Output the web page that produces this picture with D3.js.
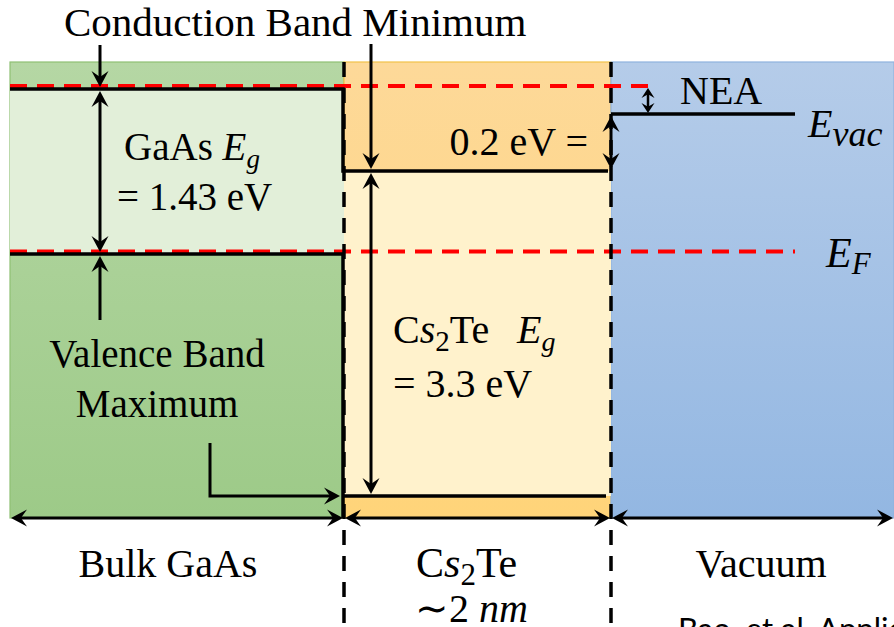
<!DOCTYPE html>
<html>
<head>
<meta charset="utf-8">
<script src="https://cdn.jsdelivr.net/npm/d3@7/dist/d3.min.js"></script>
<style>
  html, body { margin: 0; padding: 0; background: #ffffff; overflow: hidden; }
  svg { display: block; }
  text { fill: #000; }
</style>
</head>
<body>
<svg id="chart" width="894" height="627"></svg>
<script>
// ---- Data -------------------------------------------------------------
// Regions of the heterostructure, left to right
const regions = ["Bulk GaAs", "Cs₂Te", "Vacuum"];
const regionBounds = [0, 1, 2, 3];          // region boundaries (index units)

// Band energies in eV, referenced to the GaAs valence band maximum
const bandGaps = [1.43, 3.3];               // GaAs, Cs2Te
const valenceMaxima = [0, -2.3];            // GaAs, Cs2Te
const vacuumOffset = [0.2];                 // E_vac above the Cs2Te CBM
const fermiOffset = [0.03];                 // E_F above the GaAs VBM

const gaVB = valenceMaxima[0];
const gaCB = gaVB + bandGaps[0];
const csVB = valenceMaxima[1];
const csCB = csVB + bandGaps[1];
const eVac = csCB + vacuumOffset[0];
const eF   = gaVB + fermiOffset[0];

// ---- Layout -----------------------------------------------------------
const W = 894, H = 627;
const panelTop = 62, panelBottom = 518;
const SERIF = "'Liberation Serif', 'Times New Roman', Times, serif";

const svg = d3.select("#chart");

// Schematic (not-to-scale) band diagram: piecewise-linear energy axis
const y = d3.scaleLinear()
  .domain([csVB, gaVB, csCB, eVac, gaCB])
  .range([496, 254, 171, 114, 89]);

const x = d3.scaleLinear()
  .domain(regionBounds)
  .range([10, 344, 611, 894]);

// ---- Gradients --------------------------------------------------------
const defs = svg.append("defs");
function vGrad(id, top, bottom) {
  const g = defs.append("linearGradient").attr("id", id)
    .attr("x1", 0).attr("y1", 0).attr("x2", 0).attr("y2", 1);
  g.append("stop").attr("offset", "0%").attr("stop-color", top);
  g.append("stop").attr("offset", "100%").attr("stop-color", bottom);
}
vGrad("gGreen", "#b5d7a4", "#9dca88");
vGrad("gOrange", "#fdd999", "#ffd479");
vGrad("gBlue", "#b5cce9", "#93b7e2");

// ---- Region fills -----------------------------------------------------
const fills = ["url(#gGreen)", "url(#gOrange)", "url(#gBlue)"];
const borders = ["#8fc074", "#f2c24a", "#8fb2de"];
svg.append("g").selectAll("rect").data(regions).join("rect")
  .attr("x", (d, i) => x(i))
  .attr("y", panelTop)
  .attr("width", (d, i) => x(i + 1) - x(i))
  .attr("height", panelBottom - panelTop)
  .attr("fill", (d, i) => fills[i])
  .attr("stroke", (d, i) => borders[i])
  .attr("stroke-width", 1.2);

// Band gaps (forbidden regions)
const gaps = [
  { r: 0, top: gaCB, bot: gaVB, fill: "#e2efd9" },
  { r: 1, top: csCB, bot: csVB, fill: "#fff2cc" }
];
svg.append("g").selectAll("rect").data(gaps).join("rect")
  .attr("x", d => x(d.r))
  .attr("y", d => y(d.top))
  .attr("width", d => x(d.r + 1) - x(d.r))
  .attr("height", d => y(d.bot) - y(d.top))
  .attr("fill", d => d.fill);

// ---- Red dashed reference levels --------------------------------------
const red = svg.append("g")
  .attr("stroke", "#ff0000").attr("stroke-width", 4)
  .attr("stroke-dasharray", "17,10").attr("fill", "none");
red.append("line")            // GaAs CBM reference carried to the vacuum side
  .attr("x1", x(0)).attr("x2", 657)
  .attr("y1", y(gaCB) - 3).attr("y2", y(gaCB) - 3);
red.append("line")            // Fermi level
  .attr("x1", x(0)).attr("x2", 795)
  .attr("y1", y(eF)).attr("y2", y(eF));

// ---- Region boundaries (dashed) ---------------------------------------
svg.append("g").selectAll("line").data([1, 2]).join("line")
  .attr("x1", d => x(d)).attr("x2", d => x(d))
  .attr("y1", panelTop).attr("y2", H)
  .attr("stroke", "#000").attr("stroke-width", 3.5)
  .attr("stroke-dasharray", "15,11");

// ---- Band edges (solid black) -----------------------------------------
const bands = svg.append("g").attr("stroke", "#000").attr("stroke-width", 3.5)
  .attr("fill", "none").attr("stroke-linejoin", "miter");
bands.append("path")   // GaAs CBM bending down to the Cs2Te CBM
  .attr("d", `M${x(0)},${y(gaCB)} H${x(1) - 1} V${y(csCB)} H${x(2) - 3}`);
bands.append("path")   // GaAs VBM
  .attr("d", `M${x(0)},${y(gaVB)} H${x(1) - 1} V${panelBottom}`);
bands.append("path")   // Cs2Te VBM
  .attr("d", `M${x(1)},${y(csVB)} H${x(2) - 5}`);
bands.append("path")   // Vacuum level
  .attr("d", `M${x(2)},${y(eVac)} H795`);

// ---- Arrows -----------------------------------------------------------
const arrows = svg.append("g");
function head(px, py, ang, len, hw) {
  const c = Math.cos(ang), s = Math.sin(ang);
  const pt = (a, b) => [px + a * c - b * s, py + a * s + b * c];
  const p = [pt(0, 0), pt(-len, -hw), pt(-len * 0.62, 0), pt(-len, hw)];
  arrows.append("path")
    .attr("d", "M" + p.map(q => q.join(",")).join("L") + "Z")
    .attr("fill", "#000");
}
function arrow(x1, y1, x2, y2, opts = {}) {
  const len = opts.len || 16, hw = opts.hw || 8.5, w = opts.w || 3;
  const ang = Math.atan2(y2 - y1, x2 - x1);
  const dx = Math.cos(ang), dy = Math.sin(ang);
  const cut = len * 0.55;
  const sx = opts.start ? x1 + dx * cut : x1, sy = opts.start ? y1 + dy * cut : y1;
  const ex = opts.end !== false ? x2 - dx * cut : x2, ey = opts.end !== false ? y2 - dy * cut : y2;
  arrows.append("line").attr("x1", sx).attr("y1", sy).attr("x2", ex).attr("y2", ey)
    .attr("stroke", "#000").attr("stroke-width", w);
  if (opts.end !== false) head(x2, y2, ang, len, hw);
  if (opts.start) head(x1, y1, ang + Math.PI, len, hw);
}

// GaAs: CBM pointer, band-gap span, VBM pointer
arrow(100, 45, 100, y(gaCB) - 2);
arrow(100, y(gaCB) + 2, 100, y(gaVB) - 2, { start: true });
arrow(100, 320, 100, y(gaVB) + 2);

// Cs2Te: CBM pointer, band-gap span, VBM pointer (elbow)
arrow(371, 44, 371, y(csCB) - 2);
arrow(371, y(csCB) + 2, 371, y(csVB) - 2, { start: true });
arrows.append("path")
  .attr("d", `M210,443 V${y(csVB)} H330`)
  .attr("fill", "none").attr("stroke", "#000").attr("stroke-width", 3);
head(x(1) - 4, y(csVB), 0, 16, 8.5);

// E_vac above Cs2Te CBM
arrow(x(2), y(eVac) + 2, x(2), y(csCB) - 2, { start: true });
// Negative electron affinity
arrow(648, y(gaCB) - 1, 648, y(eVac) - 1, { start: true, len: 10, hw: 6.5, w: 2.5 });

// Region widths along the bottom edge
regions.forEach((r, i) => {
  arrow(x(i) + 1, panelBottom, x(i + 1) - 1, panelBottom, { start: true, w: 3 });
});

// ---- Labels -----------------------------------------------------------
function label(px, py, size, parts, anchor) {
  const t = svg.append("text").attr("x", px).attr("y", py)
    .attr("font-family", SERIF)
    .attr("font-size", size).attr("text-anchor", anchor || "start");
  parts.forEach(p => {
    const s = t.append("tspan").text(p.t);
    if (p.i) s.attr("font-style", "italic");
    if (p.fs) s.attr("font-size", p.fs);
    if (p.dy) s.attr("dy", p.dy);
    if (p.x !== undefined) s.attr("x", p.x);
    if (p.ff) s.attr("font-family", p.ff);
  });
  return t;
}

label(64, 36, 41, [{ t: "Conduction Band Minimum" }]);

label(124, 160, 39, [{ t: "GaAs " }, { t: "E", i: 1 }, { t: "g", i: 1, fs: 27, dy: 8 }]);
label(117, 210, 39, [{ t: "= " + bandGaps[0].toFixed(2) + " eV" }]);

label(588, 155, 40, [{ t: vacuumOffset[0].toFixed(1) + " eV =" }], "end");
label(680, 104, 40, [{ t: "NEA" }]);

label(808, 137, 40, [{ t: "E", i: 1 }, { t: "vac", i: 1, fs: 36, dy: 9 }]);
label(826, 267, 42, [{ t: "E", i: 1 }, { t: "F", i: 1, fs: 31, dy: 7 }]);

label(393, 343, 40, [
  { t: "C" }, { t: "s", i: 1 }, { t: "2", fs: 29, dy: 8 }, { t: "Te", dy: -8 },
  { t: "E", i: 1, x: 517 }, { t: "g", i: 1, fs: 28, dy: 8 }
]);
label(393, 397, 40, [{ t: "= " + bandGaps[1].toFixed(1) + " eV" }]);

label(157, 367, 39, [{ t: "Valence Band" }], "middle");
label(157, 417, 39, [{ t: "Maximum" }], "middle");

// Region names under the diagram
label(168, 577, 40, [{ t: regions[0] }], "middle");
label(416, 577, 42, [{ t: "C" }, { t: "s", i: 1 }, { t: "2", fs: 31, dy: 8 }, { t: "Te", dy: -8 }]);
label(415, 622, 40, [{ t: "∼2 " }, { t: "nm", i: 1 }]);
label(761, 577, 40, [{ t: regions[2] }], "middle");

// Source note
label(678, 640, 31, [{ t: "Bao, et al. Applied Physics Letters", ff: "Lato, 'Liberation Sans', sans-serif" }]);
</script>
</body>
</html>
